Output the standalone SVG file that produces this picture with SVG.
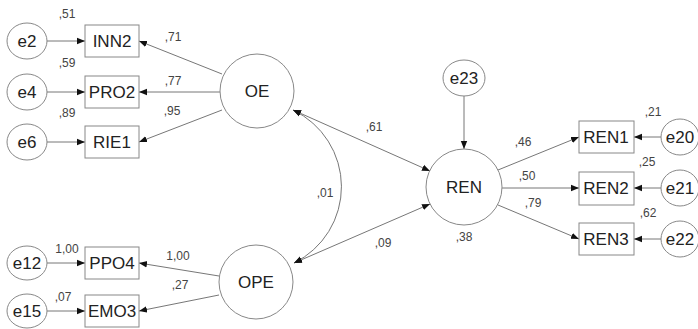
<svg xmlns="http://www.w3.org/2000/svg" width="698" height="329" viewBox="0 0 698 329">
<style>
.n{fill:#fff;stroke:#888;stroke-width:1}
.t{font-family:"Liberation Sans",Arial,sans-serif;font-size:17px;fill:#222;text-anchor:middle;dominant-baseline:central}
.v{font-family:"Liberation Sans",Arial,sans-serif;font-size:12px;fill:#444;text-anchor:middle;dominant-baseline:central}
.c{fill:none;stroke:#777;stroke-width:1}
</style>
<defs>
<marker id="a" viewBox="0 0 10 10" refX="10" refY="5" markerWidth="8" markerHeight="8" markerUnits="userSpaceOnUse" orient="auto-start-reverse">
<path d="M0,1 L10,5 L0,9 z" fill="#111"/>
</marker>
</defs>
<rect width="698" height="329" fill="#fff"/>
<g id="connectors">
<line class="c" x1="47" y1="41" x2="85" y2="41" marker-end="url(#a)"/>
<line class="c" x1="47" y1="92" x2="85" y2="92" marker-end="url(#a)"/>
<line class="c" x1="47" y1="142" x2="85" y2="142" marker-end="url(#a)"/>
<line class="c" x1="47" y1="263" x2="85" y2="263" marker-end="url(#a)"/>
<line class="c" x1="47" y1="311" x2="85" y2="311" marker-end="url(#a)"/>
<line class="c" x1="222" y1="74" x2="139" y2="41" marker-end="url(#a)"/>
<line class="c" x1="220" y1="92" x2="139" y2="92" marker-end="url(#a)"/>
<line class="c" x1="222" y1="110" x2="139" y2="142" marker-end="url(#a)"/>
<line class="c" x1="219" y1="276" x2="139" y2="263" marker-end="url(#a)"/>
<line class="c" x1="219" y1="295" x2="139" y2="311" marker-end="url(#a)"/>
<line class="c" x1="293" y1="110" x2="430" y2="171" marker-start="url(#a)" marker-end="url(#a)"/>
<line class="c" x1="294" y1="263" x2="430" y2="204" marker-start="url(#a)" marker-end="url(#a)"/>
<path class="c" d="M293,110 A85,85 0 0 1 294,263" marker-start="url(#a)" marker-end="url(#a)"/>
<line class="c" x1="464" y1="96" x2="464" y2="149" marker-end="url(#a)"/>
<line class="c" x1="498" y1="170" x2="579" y2="137" marker-end="url(#a)"/>
<line class="c" x1="502" y1="188" x2="579" y2="188" marker-end="url(#a)"/>
<line class="c" x1="498" y1="205" x2="579" y2="239" marker-end="url(#a)"/>
<line class="c" x1="661" y1="137" x2="634" y2="137" marker-end="url(#a)"/>
<line class="c" x1="661" y1="188" x2="634" y2="188" marker-end="url(#a)"/>
<line class="c" x1="661" y1="239" x2="634" y2="239" marker-end="url(#a)"/>
</g>
<g id="e2"><ellipse class="n" cx="27" cy="41" rx="20" ry="18"/><text class="t" x="27" y="41">e2</text></g>
<g id="e4"><ellipse class="n" cx="27" cy="92" rx="20" ry="18"/><text class="t" x="27" y="92">e4</text></g>
<g id="e6"><ellipse class="n" cx="27" cy="142" rx="20" ry="18"/><text class="t" x="27" y="142">e6</text></g>
<g id="e12"><ellipse class="n" cx="27" cy="263" rx="20" ry="17"/><text class="t" x="27" y="263">e12</text></g>
<g id="e15"><ellipse class="n" cx="27" cy="311" rx="20" ry="17"/><text class="t" x="27" y="311">e15</text></g>
<g id="INN2"><rect class="n" x="85" y="25" width="54" height="32"/><text class="t" x="112" y="41">INN2</text></g>
<g id="PRO2"><rect class="n" x="85" y="76" width="54" height="32"/><text class="t" x="112" y="92">PRO2</text></g>
<g id="RIE1"><rect class="n" x="85" y="126" width="54" height="32"/><text class="t" x="112" y="142">RIE1</text></g>
<g id="PPO4"><rect class="n" x="85" y="247" width="54" height="32"/><text class="t" x="112" y="263">PPO4</text></g>
<g id="EMO3"><rect class="n" x="85" y="295" width="54" height="32"/><text class="t" x="112" y="311">EMO3</text></g>
<g id="OE"><circle class="n" cx="257" cy="91" r="37"/><text class="t" x="257" y="91">OE</text></g>
<g id="OPE"><circle class="n" cx="256" cy="282" r="37"/><text class="t" x="256" y="282">OPE</text></g>
<g id="REN"><circle class="n" cx="464" cy="187" r="38"/><text class="t" x="464" y="187">REN</text></g>
<g id="e23"><ellipse class="n" cx="464" cy="78" rx="21" ry="18"/><text class="t" x="464" y="78">e23</text></g>
<g id="REN1"><rect class="n" x="579" y="121" width="55" height="32"/><text class="t" x="606" y="137">REN1</text></g>
<g id="REN2"><rect class="n" x="579" y="172" width="55" height="33"/><text class="t" x="606" y="188">REN2</text></g>
<g id="REN3"><rect class="n" x="579" y="223" width="55" height="32"/><text class="t" x="606" y="239">REN3</text></g>
<g id="e20"><ellipse class="n" cx="680" cy="137" rx="19" ry="18"/><text class="t" x="680" y="137">e20</text></g>
<g id="e21"><ellipse class="n" cx="680" cy="188" rx="19" ry="18"/><text class="t" x="680" y="188">e21</text></g>
<g id="e22"><ellipse class="n" cx="680" cy="239" rx="19" ry="18"/><text class="t" x="680" y="239">e22</text></g>
<g id="labels">
<text class="v" x="67" y="14">,51</text>
<text class="v" x="67" y="63">,59</text>
<text class="v" x="67" y="113">,89</text>
<text class="v" x="173" y="37">,71</text>
<text class="v" x="173" y="81">,77</text>
<text class="v" x="172" y="111">,95</text>
<text class="v" x="67" y="249">1,00</text>
<text class="v" x="63" y="297">,07</text>
<text class="v" x="178" y="256">1,00</text>
<text class="v" x="180" y="285">,27</text>
<text class="v" x="374" y="127">,61</text>
<text class="v" x="325" y="193">,01</text>
<text class="v" x="383" y="243">,09</text>
<text class="v" x="523" y="142">,46</text>
<text class="v" x="527" y="176">,50</text>
<text class="v" x="533" y="203">,79</text>
<text class="v" x="464" y="237">,38</text>
<text class="v" x="653" y="112">,21</text>
<text class="v" x="647" y="162">,25</text>
<text class="v" x="648" y="213">,62</text>
</g>
</svg>
